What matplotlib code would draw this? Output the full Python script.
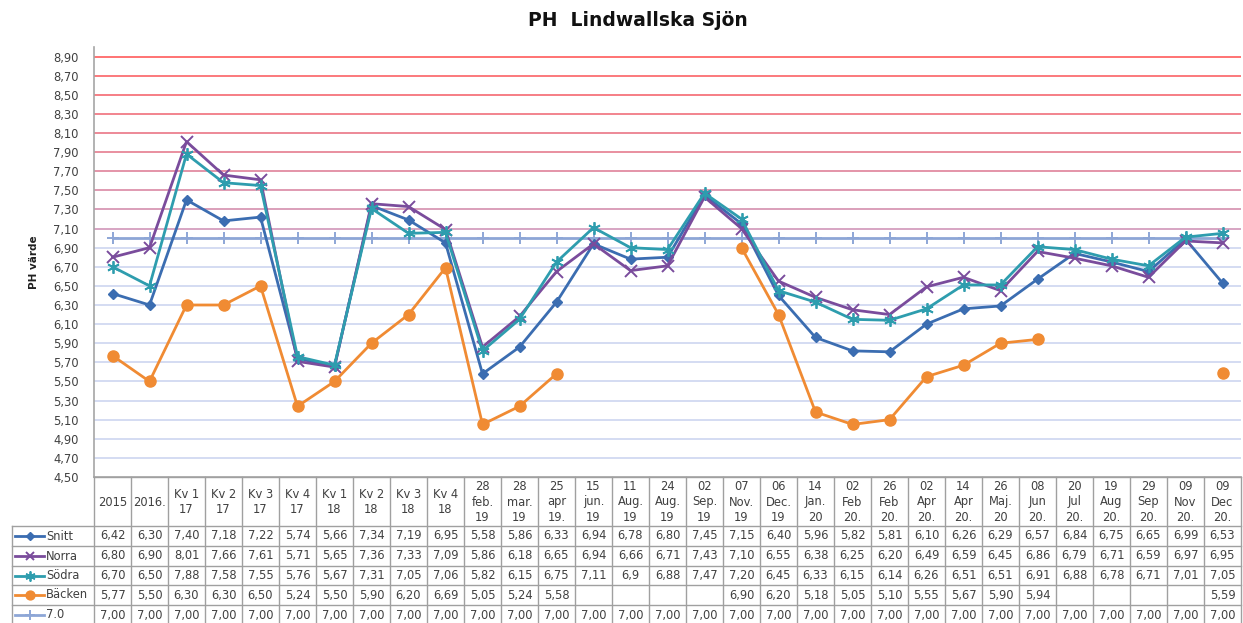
import numpy as np
import matplotlib
matplotlib.use("Agg")
import matplotlib.pyplot as plt
from matplotlib.lines import Line2D
from matplotlib.transforms import blended_transform_factory

plt.rcParams['font.family'] = ['DejaVu Sans']

categories = ["2015", "2016.", "Kv 1\n17", "Kv 2\n17", "Kv 3\n17", "Kv 4\n17", "Kv 1\n18",
              "Kv 2\n18", "Kv 3\n18", "Kv 4\n18", "28\nfeb.\n19", "28\nmar.\n19", "25\napr\n19.",
              "15\njun.\n19", "11\nAug.\n19", "24\nAug.\n19", "02\nSep.\n19", "07\nNov.\n19",
              "06\nDec.\n19", "14\nJan.\n20", "02\nFeb\n20.", "26\nFeb\n20.", "02\nApr\n20.",
              "14\nApr\n20.", "26\nMaj.\n20", "08\nJun\n20.", "20\nJul\n20.", "19\nAug\n20.",
              "29\nSep\n20.", "09\nNov\n20.", "09\nDec\n20."]

snitt = [6.42, 6.30, 7.40, 7.18, 7.22, 5.74, 5.66, 7.34, 7.19, 6.95, 5.58, 5.86, 6.33, 6.94, 6.78,
         6.80, 7.45, 7.15, 6.40, 5.96, 5.82, 5.81, 6.10, 6.26, 6.29, 6.57, 6.84, 6.75, 6.65, 6.99, 6.53]
norra = [6.80, 6.90, 8.01, 7.66, 7.61, 5.71, 5.65, 7.36, 7.33, 7.09, 5.86, 6.18, 6.65, 6.94, 6.66,
         6.71, 7.43, 7.10, 6.55, 6.38, 6.25, 6.20, 6.49, 6.59, 6.45, 6.86, 6.79, 6.71, 6.59, 6.97, 6.95]
sodra = [6.70, 6.50, 7.88, 7.58, 7.55, 5.76, 5.67, 7.31, 7.05, 7.06, 5.82, 6.15, 6.75, 7.11, 6.9,
         6.88, 7.47, 7.20, 6.45, 6.33, 6.15, 6.14, 6.26, 6.51, 6.51, 6.91, 6.88, 6.78, 6.71, 7.01, 7.05]
backen = [5.77, 5.50, 6.30, 6.30, 6.50, 5.24, 5.50, 5.90, 6.20, 6.69, 5.05, 5.24, 5.58,
          None, None, None, None, 6.90, 6.20, 5.18, 5.05, 5.10, 5.55, 5.67, 5.90, 5.94,
          None, None, None, None, 5.59]
ref_line = [7.00] * 31
sodra_text_override = {14: "6,9"}

series_names = ["Snitt", "Norra", "Södra", "Bäcken", "7.0"]
series_data = [snitt, norra, sodra, backen, ref_line]
styles = [
    dict(color="#3B6DB1", marker="D", ms=5.5, lw=2.0),
    dict(color="#7A4C9C", marker="x", ms=8, mew=1.4, lw=2.0),
    dict(color="#2E9DAE", marker=(6, 2, 0), ms=9, mew=1.3, lw=2.0),
    dict(color="#F08B33", marker="o", ms=8, lw=2.0),
    dict(color="#8DA6D6", marker="+", ms=9, mew=1.4, lw=2.0),
]

W, H = 1243, 623
fig = plt.figure(figsize=(W / 100, H / 100), dpi=100)
ax_l, ax_r, ax_t, ax_b = 94, 1241, 47, 477
ax = fig.add_axes([ax_l / W, 1 - ax_b / H, (ax_r - ax_l) / W, (ax_b - ax_t) / H])

n = len(categories)
x = np.arange(n)
ax.set_xlim(-0.5, n - 0.5)
ax.set_ylim(4.5, 9.0)

yt = np.round(np.arange(4.5, 8.91, 0.2), 2)
top_c = np.array([255, 115, 115]) / 255
mid_c = np.array([215, 165, 195]) / 255
low_c = np.array([212, 220, 242]) / 255
for y in yt:
    if y <= 4.51:
        continue
    if y >= 7.09:
        t = (y - 7.1) / (8.9 - 7.1)
        c = mid_c + (top_c - mid_c) * t
    else:
        c = low_c
    ax.axhline(y, color=c, lw=1.4, zorder=0)

for name, data, st in zip(series_names, series_data, styles):
    arr = np.array([np.nan if v is None else v for v in data], dtype=float)
    ax.plot(x, arr, zorder=3 if name != "7.0" else 2, solid_joinstyle="round", **st)

FS = 8.3
ax.set_yticks(yt)
ax.set_yticklabels([f"{v:.2f}".replace(".", ",") for v in yt], fontsize=FS, color="#404040")
ax.tick_params(axis="y", length=0, pad=11)
ax.set_xticks([])
for s in ["top", "right"]:
    ax.spines[s].set_visible(False)
for s in ["left", "bottom"]:
    ax.spines[s].set_color("#A6A6A6")
    ax.spines[s].set_linewidth(1.2)
ax.set_ylabel("PH värde", fontsize=7.5, color="#202020", fontweight="bold", labelpad=10)

fig.text(0.513, 1 - 21 / H, "PH  Lindwallska Sjön", ha="center", va="center",
         fontsize=13.5, fontweight="bold", color="#111111")

tr = blended_transform_factory(ax.transData, fig.transFigure)
border = "#A0A0A0"
tc = "#404040"
def fy(py):
    return 1 - py / H

header_top, header_bot = 477, 526
row_edges = [526, 546, 566, 585, 605, 625]
for i in range(n + 1):
    xv = i - 0.5
    fig.add_artist(Line2D([xv, xv], [fy(header_top), fy(row_edges[-1])], transform=tr,
                          color=border, lw=1.0, clip_on=False))
for py in [header_bot] + row_edges[1:-1]:
    fig.add_artist(Line2D([12 / W, ax_r / W], [fy(py), fy(py)], transform=fig.transFigure,
                          color=border, lw=1.0))
fig.add_artist(Line2D([12 / W, 12 / W], [fy(header_bot), fy(row_edges[-1])],
                      transform=fig.transFigure, color=border, lw=1.0))
fig.add_artist(Line2D([ax_l / W, ax_r / W], [fy(header_top), fy(header_top)],
                      transform=fig.transFigure, color=border, lw=1.0))
for i, c in enumerate(categories):
    fig.text(i, fy((header_top + header_bot) / 2 + 0.5), c, transform=tr, ha="center",
             va="center", fontsize=FS, color=tc, linespacing=1.25)
for r, (name, data, st) in enumerate(zip(series_names, series_data, styles)):
    yc = fy((row_edges[r] + row_edges[r + 1]) / 2)
    for i, v in enumerate(data):
        if v is None:
            continue
        s = f"{v:.2f}".replace(".", ",")
        if name == "Södra" and i in sodra_text_override:
            s = sodra_text_override[i]
        fig.text(i, yc, s, transform=tr, ha="center", va="center", fontsize=FS, color=tc)
    kw = dict(st)
    kw["ms"] = kw["ms"] * 0.8
    fig.add_artist(Line2D([15 / W, 44 / W], [yc, yc], transform=fig.transFigure,
                          color=kw["color"], lw=2.0))
    fig.add_artist(Line2D([29.5 / W], [yc], transform=fig.transFigure, color=kw["color"],
                          marker=kw["marker"], ms=kw["ms"], mew=kw.get("mew", 1.0), lw=0))
    fig.text(46 / W, yc, name, ha="left", va="center", fontsize=FS, color=tc)

fig.savefig("out.png", dpi=100, facecolor="white")
